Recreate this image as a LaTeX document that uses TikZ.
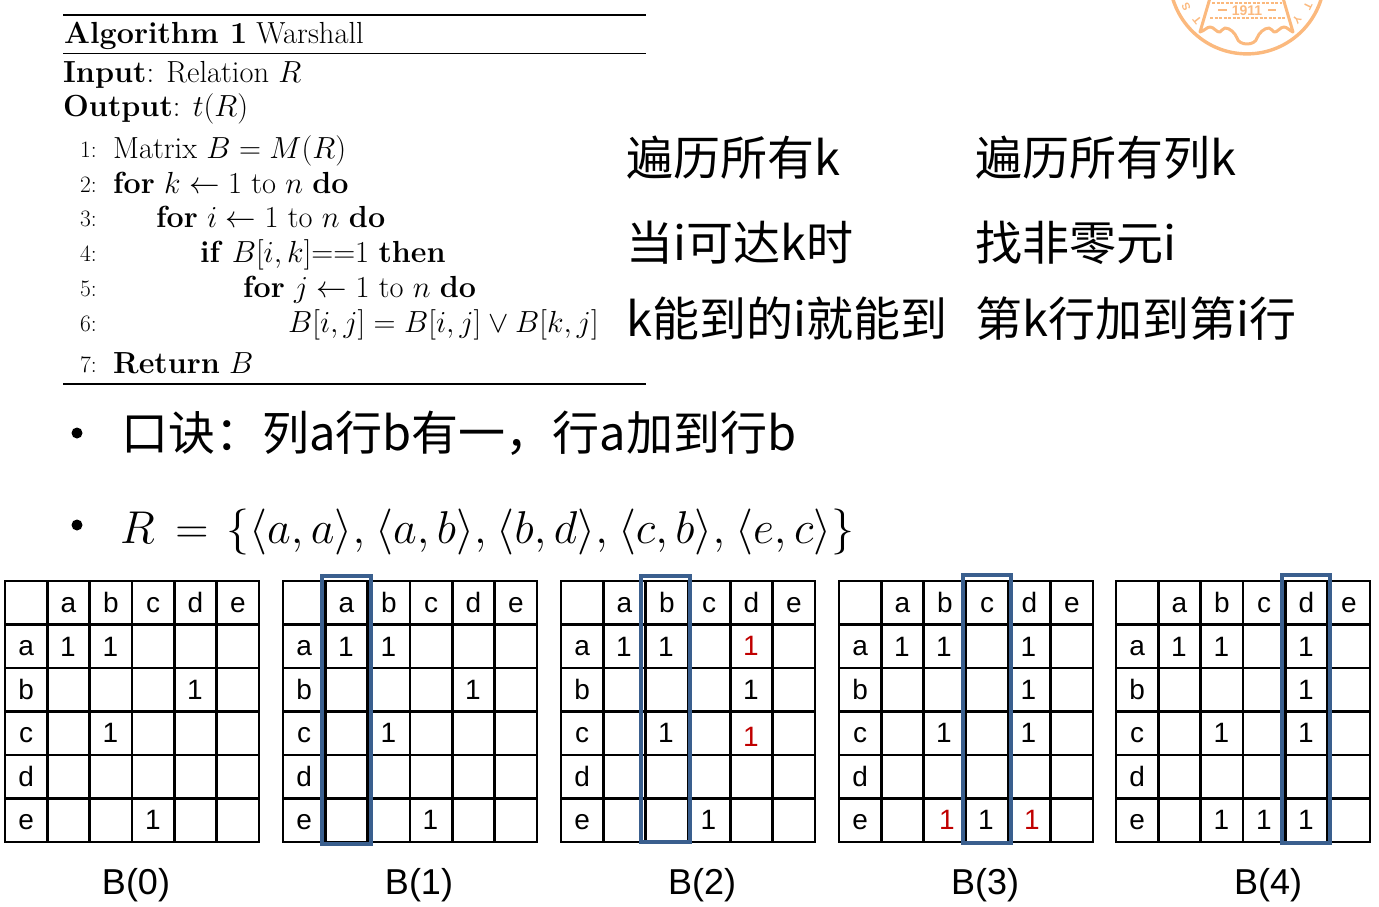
\documentclass[tikz,border=0pt]{standalone}
\usepackage{fix-cm}
\usepackage{fontspec}
\newfontfamily\cjk{Noto Sans CJK SC}
\newfontfamily\cellfont{Liberation Sans}
\definecolor{boxblue}{HTML}{3A5F8E}
\definecolor{sealorange}{HTML}{FBB97E}
\definecolor{newred}{HTML}{C00000}

\newcommand{\fs}[1]{\fontsize{#1}{#1}\selectfont}

\tikzset{
  algtext/.style={anchor=base west, inner sep=0pt, font=\fs{30.5}},
  algnum/.style={anchor=base east, inner sep=0pt, font=\fs{23.5}},
  bigcjk/.style={anchor=base west, inner sep=0pt, font=\cjk\fs{47}},
  bullet/.style={circle, fill=black, inner sep=0pt, minimum size=11pt},
  gridline/.style={line width=2.4pt, black},
  cell/.style={anchor=base, inner sep=0pt, font=\cellfont\fs{28}},
  newcell/.style={cell, text=newred},
  colbox/.style={draw=boxblue, line width=4pt, inner sep=0pt},
  caption/.style={inner sep=0pt, font=\cellfont\fs{36}},
  sealline/.style={draw=sealorange, line width=3.4pt},
  sealdash/.style={draw=sealorange, line width=1.5pt, dash pattern=on 3pt off 1.5pt},
  sealtext/.style={inner sep=0pt, text=sealorange, font=\cellfont\bfseries\fs{14}},
  sealletter/.style={sealtext, font=\cellfont\bfseries\fs{11}},
}

% one 5x5 table: #1 left edge, #2 name prefix
\newcommand{\warshallgrid}[2]{
  \foreach \col in {0,...,6}
    \draw[gridline] ({#1+\col*42.33},581) -- ({#1+\col*42.33},842);
  \foreach \row in {0,...,6}
    \draw[gridline] (#1-1,{581+\row*43.5}) -- (#1+255,{581+\row*43.5});
  \foreach \name [count=\col] in {a,b,c,d,e}
    \node[cell] (#2h\name) at ({#1+(\col+0.5)*42.33},612) {\name};
  \foreach \name [count=\row] in {a,b,c,d,e}
    \node[cell] (#2r\name) at ({#1+21.2},{612+\row*43.5}) {\name};
}

\begin{document}
\begin{tikzpicture}[x=1pt, y=-1pt]
\useasboundingbox (0,0) rectangle (1379,907);

% seal in the corner
\begin{scope}
\clip (1150,0) rectangle (1340,60);
\node[circle, sealline, minimum size=155pt, inner sep=0pt] (seal) at (1247,-23.6) {};
\draw[sealline, line width=3pt, line join=round]
  (1210,-2) -- (1200,32) .. controls (1204,31) and (1207,27) .. (1210,27)
  .. controls (1214,27) and (1217,33) .. (1220,32)
  .. controls (1222,31) and (1223,28) .. (1225,28)
  .. controls (1230,28) and (1235,33) .. (1237,38)
  .. controls (1239,46) and (1255,46) .. (1257,38)
  .. controls (1259,33) and (1264,28) .. (1269,28)
  .. controls (1271,28) and (1272,31) .. (1274,32)
  .. controls (1277,33) and (1280,27) .. (1284,27)
  .. controls (1287,27) and (1290,31) .. (1293,32) -- (1283,-2);
\draw[sealdash] (1212,3) -- (1282,3);
\draw[sealdash] (1210,18) -- (1285,18);
\node[sealtext] (year) at (1247,10.5) {1911};
\coordinate (yearla) at (1218,10.5);
\coordinate (yearlb) at (1227,10.5);
\coordinate (yearra) at (1268,10.5);
\coordinate (yearrb) at (1276,10.5);
\draw[sealorange, line width=2pt] (yearla) -- (yearlb);
\draw[sealorange, line width=2pt] (yearra) -- (yearrb);
\node[sealletter, rotate=116] (seals) at (1186,6.5) {S};
\node[sealletter, rotate=129] (sealt) at (1197,20) {T};
\node[sealletter, rotate=-129] (sealy) at (1297,20) {Y};
\node[sealletter, rotate=-116] (sealu) at (1308,6.5) {T};
\end{scope}

% algorithm box
\coordinate (rule0l) at (63,15);
\coordinate (rule0r) at (646,15);
\coordinate (rule1l) at (63,54);
\coordinate (rule1r) at (646,54);
\coordinate (rule2l) at (63,384);
\coordinate (rule2r) at (646,384);
\draw[line width=2pt] (rule0l) -- (rule0r);
\draw[line width=1pt] (rule1l) -- (rule1r);
\draw[line width=1.5pt] (rule2l) -- (rule2r);

\node[algtext] (title) at (64,44) {\textbf{Algorithm 1} Warshall};
\node[algtext] (input) at (63,82) {\textbf{Input}: Relation $R$};
\node[algtext] (output) at (63,117) {\textbf{Output}: $t(R)$};

\node[algnum] (n1) at (97,157) {1:};
\node[algnum] (n2) at (97,192) {2:};
\node[algnum] (n3) at (97,226) {3:};
\node[algnum] (n4) at (97,261) {4:};
\node[algnum] (n5) at (97,296) {5:};
\node[algnum] (n6) at (97,331) {6:};
\node[algnum] (n7) at (97,372) {7:};

\node[algtext] (l1) at (113,158) {Matrix $B=M(R)$};
\node[algtext] (l2) at (113,193) {\textbf{for} $k\leftarrow 1$ to $n$ \textbf{do}};
\node[algtext] (l3) at (156,227) {\textbf{for} $i\leftarrow 1$ to $n$ \textbf{do}};
\node[algtext] (l4) at (200,262) {\textbf{if} $B[i,k]{=}{=}1$ \textbf{then}};
\node[algtext] (l5) at (243,297) {\textbf{for} $j\leftarrow 1$ to $n$ \textbf{do}};
\node[algtext] (l6) at (288,332) {$B[i,j]=B[i,j]\vee B[k,j]$};
\node[algtext] (l7) at (113,373) {\textbf{Return} $B$};

% notes next to the algorithm
\node[bigcjk] (noteA) at (626,175) {遍历所有k};
\node[bigcjk] (noteB) at (626,260) {当i可达k时};
\node[bigcjk] (noteC) at (626,336) {k能到的i就能到};
\node[bigcjk] (noteD) at (975,175) {遍历所有列k};
\node[bigcjk] (noteE) at (975,260) {找非零元i};
\node[bigcjk] (noteF) at (975,336) {第k行加到第i行};

% bullets
\node[bullet] (dot0) at (77,433) {};
\node[bigcjk] (rhyme) at (121,450) {口诀：列a行b有一，行a加到行b};
\node[bullet] (dot1) at (77,525) {};
\node[algtext, font=\fs{46}] (rel) at (120,543)
  {$R\mkern3mu=\mkern2mu\{\langle a,a\rangle,\mkern1mu\langle a,b\rangle,\mkern1mu\langle b,d\rangle,\mkern1mu\langle c,b\rangle,\mkern1mu\langle e,c\rangle\}$};

% tables
\warshallgrid{5}{p}
\warshallgrid{283}{q}
\warshallgrid{561}{u}
\warshallgrid{839}{v}
\warshallgrid{1116}{w}

% B(0)
\node[cell] (p11) at (68,656) {1};
\node[cell] (p12) at (110.5,656) {1};
\node[cell] (p24) at (195,699) {1};
\node[cell] (p32) at (110.5,742) {1};
\node[cell] (p53) at (153,829) {1};

% B(1)
\node[cell] (q11) at (346,656) {1};
\node[cell] (q12) at (388.5,656) {1};
\node[cell] (q24) at (473,699) {1};
\node[cell] (q32) at (388.5,742) {1};
\node[cell] (q53) at (430.5,829) {1};

% B(2)
\node[cell] (u11) at (624,656) {1};
\node[cell] (u12) at (666,656) {1};
\node[newcell] (u14) at (751,655) {1};
\node[cell] (u24) at (751,699) {1};
\node[cell] (u32) at (666,742) {1};
\node[newcell] (u34) at (751,746) {1};
\node[cell] (u53) at (708.5,829) {1};

% B(3)
\node[cell] (v11) at (902,656) {1};
\node[cell] (v12) at (944,656) {1};
\node[cell] (v14) at (1028.5,656) {1};
\node[cell] (v24) at (1028.5,699) {1};
\node[cell] (v32) at (944,742) {1};
\node[cell] (v34) at (1028.5,742) {1};
\node[newcell] (v52) at (947,829) {1};
\node[cell] (v53) at (986,829) {1};
\node[newcell] (v54) at (1032,829) {1};

% B(4)
\node[cell] (w11) at (1179,656) {1};
\node[cell] (w12) at (1221.5,656) {1};
\node[cell] (w14) at (1306,656) {1};
\node[cell] (w24) at (1306,699) {1};
\node[cell] (w32) at (1221.5,742) {1};
\node[cell] (w34) at (1306,742) {1};
\node[cell] (w52) at (1221.5,829) {1};
\node[cell] (w53) at (1264,829) {1};
\node[cell] (w54) at (1306,829) {1};

% current column
\node[colbox, minimum width=49pt, minimum height=268pt] (box1) at (346.5,710) {};
\node[colbox, minimum width=49pt, minimum height=266pt] (box2) at (665.5,709) {};
\node[colbox, minimum width=48pt, minimum height=268pt] (box3) at (987,709) {};
\node[colbox, minimum width=48pt, minimum height=268pt] (box4) at (1306,709) {};

\node[caption] (cap0) at (136,885) {B(0)};
\node[caption] (cap1) at (419,885) {B(1)};
\node[caption] (cap2) at (702,885) {B(2)};
\node[caption] (cap3) at (985,885) {B(3)};
\node[caption] (cap4) at (1268,885) {B(4)};
\end{tikzpicture}
\end{document}
